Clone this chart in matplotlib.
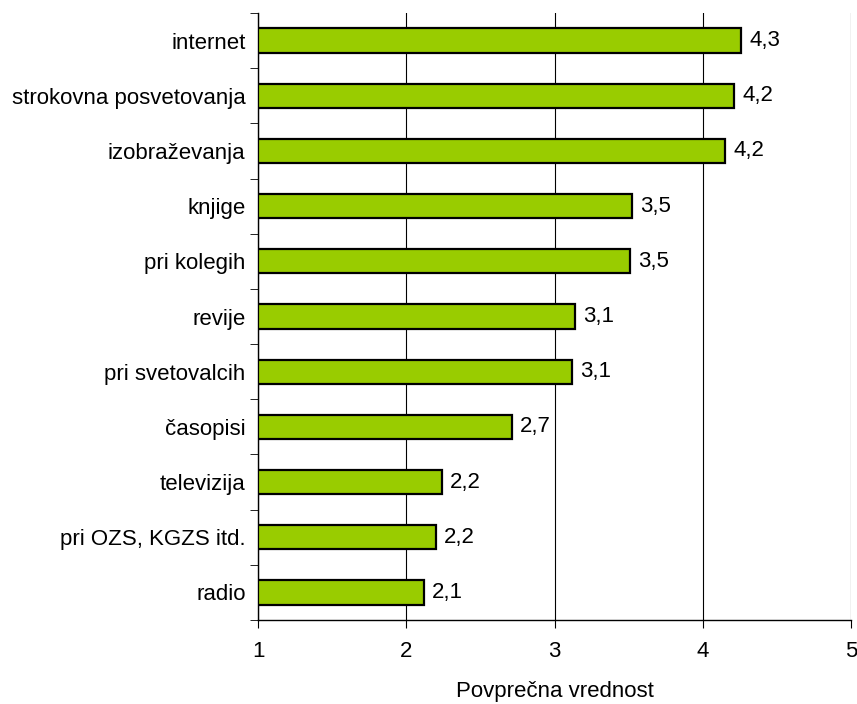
import matplotlib
matplotlib.use("Agg")
import matplotlib.pyplot as plt

plt.rcParams["font.family"] = ["Liberation Sans", "DejaVu Sans"]

categories = ["internet", "strokovna posvetovanja", "izobraževanja", "knjige",
              "pri kolegih", "revije", "pri svetovalcih", "časopisi",
              "televizija", "pri OZS, KGZS itd.", "radio"]
values = [4.26, 4.21, 4.15, 3.52, 3.51, 3.14, 3.12, 2.71, 2.24, 2.20, 2.12]
xticks = [1, 2, 3, 4, 5]

BAR = "#99CC00"
FS = 16

fig = plt.figure(figsize=(8.57, 7.04), dpi=100)
x0, x1 = 258 / 857, 851 / 857
ax = fig.add_axes([x0, 0.1193, x1 - x0, 0.8622])

n = len(categories)
ypos = list(range(n))[::-1]
ax.barh(ypos, [v - 1 for v in values], left=1, height=0.44, color=BAR,
        edgecolor="black", linewidth=1.6, zorder=3)

for y, v in zip(ypos, values):
    ax.text(v + 0.055, y, f"{v:.1f}".replace(".", ","), ha="left", va="center",
            fontsize=FS)

ax.set_xlim(1, 5)
ax.set_ylim(-0.5, n - 0.5)
ax.set_xticks(xticks)
ax.set_xticklabels([str(t) for t in xticks], fontsize=FS)
ax.tick_params(axis="x", length=6, pad=9, color="black")

ax.set_yticks(ypos)
ax.set_yticklabels(categories, fontsize=FS)
ax.tick_params(axis="y", length=0, pad=9)
ax.set_yticks([i - 0.5 for i in range(n + 1)], minor=True)
ax.tick_params(axis="y", which="minor", length=6, color="black")

ax.grid(axis="x", color="black", linewidth=0.8, zorder=0)
for s in ["top", "right"]:
    ax.spines[s].set_visible(False)
for s in ["left", "bottom"]:
    ax.spines[s].set_linewidth(1.0)

ax.set_xlabel("Povprečna vrednost", fontsize=FS, labelpad=14)

fig.savefig("out.png", dpi=100, facecolor="white")
